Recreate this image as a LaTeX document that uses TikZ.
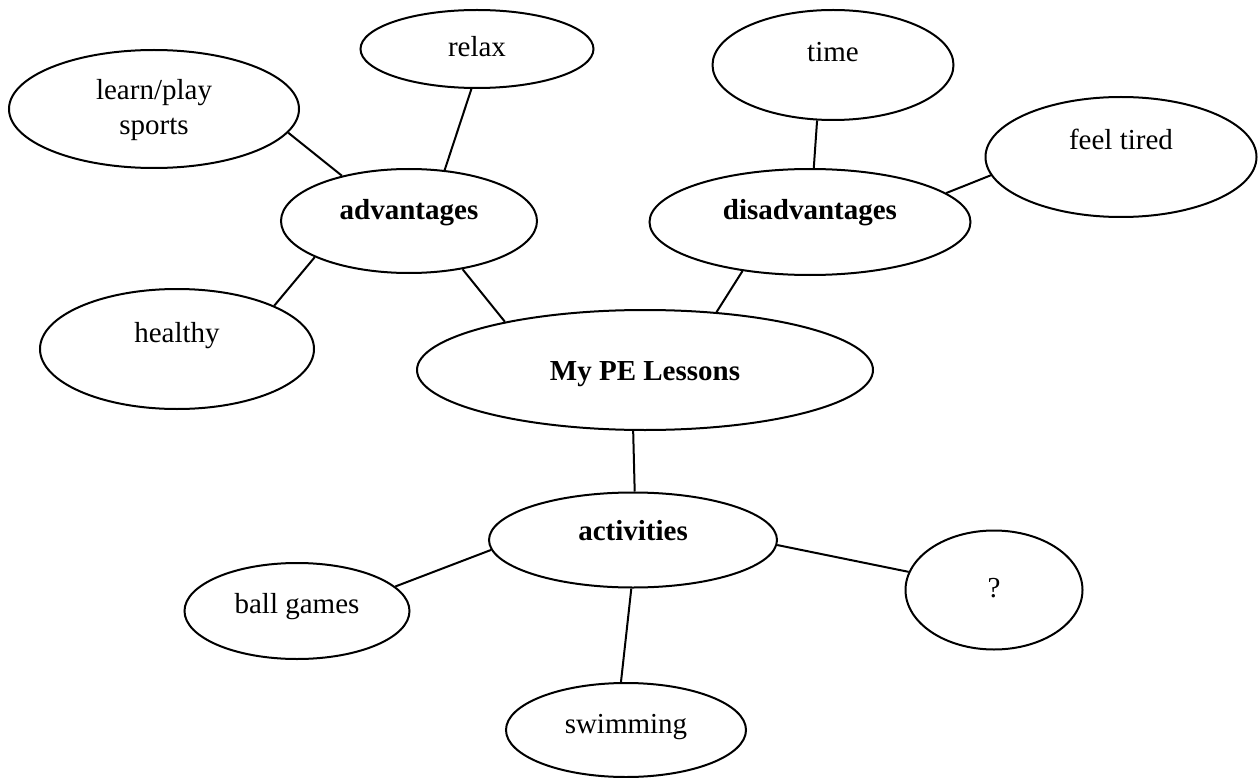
\documentclass[tikz,border=0pt]{standalone}
\usepackage{fontspec}
\setmainfont{Liberation Serif}
\usetikzlibrary{shapes.geometric}
\tikzset{
  bubble/.style={draw=black, line width=2pt, ellipse, inner sep=0pt, fill=white},
  label/.style={anchor=base, inner sep=0pt, align=center, font=\fontsize{29}{35}\selectfont},
  boldlabel/.style={label, font=\fontsize{29}{35}\selectfont\bfseries},
  link/.style={draw=black, line width=2pt}
}
\begin{document}
\begin{tikzpicture}[x=1pt,y=-1pt]
\useasboundingbox[fill=white] (0,0) rectangle (1258,778);
% ellipses
\node[bubble, minimum width=233, minimum height=78]  (relax) at (477,49) {};
\node[bubble, minimum width=290, minimum height=118] (learn) at (154,109) {};
\node[bubble, minimum width=256, minimum height=104] (adv)   at (409,221) {};
\node[bubble, minimum width=274, minimum height=120] (healthy) at (177,349) {};
\node[bubble, minimum width=241, minimum height=110] (time)  at (833,65) {};
\node[bubble, minimum width=271, minimum height=120] (tired) at (1121,157) {};
\node[bubble, minimum width=321, minimum height=106] (dis)   at (810,222) {};
\node[bubble, minimum width=456, minimum height=120] (pe)    at (645,370) {};
\node[bubble, minimum width=288, minimum height=95]  (act)   at (633,540) {};
\node[bubble, minimum width=225, minimum height=96]  (ball)  at (297,611) {};
\node[bubble, minimum width=177, minimum height=119] (q)     at (994,590) {};
\node[bubble, minimum width=240, minimum height=94]  (swim)  at (626,730) {};
% texts
\node[label] (trelax) at (477,57) {relax};
\node[label] (tlearn) at (154,135) {learn/play\\sports};
\node[boldlabel] (tadv) at (409,220) {advantages};
\node[label] (thealthy) at (177,342) {healthy};
\node[label] (ttime) at (833,62) {time};
\node[label] (ttired) at (1121,150) {feel tired};
\node[boldlabel] (tdis) at (810,220) {disadvantages};
\node[boldlabel] (tpe) at (645,380) {My PE Lessons};
\node[boldlabel] (tact) at (633,540) {activities};
\node[label] (tball) at (297,613) {ball games};
\node[label] (tq) at (994,597) {?};
\node[label] (tswim) at (626,733) {swimming};
% connectors
\draw[link] (learn.-10.7) -- (adv.146.1);
\draw[link] (healthy.24.6) -- (adv.201.4);
\draw[link] (relax.262.7) -- (adv.55);
\draw[link] (adv.-42.1) -- (pe.161.9);
\draw[link] (dis.216.2) -- (pe.39.2);
\draw[link] (time.254.7) -- (dis.86.8);
\draw[link] (dis.12.5) -- (tired.188.8);
\draw[link] (pe.259.6) -- (act.88.8);
\draw[link] (ball.14.2) -- (act.184.5);
\draw[link] (act.-2.4) -- (q.168.2);
\draw[link] (act.268.8) -- (swim.96);
\end{tikzpicture}
\end{document}
